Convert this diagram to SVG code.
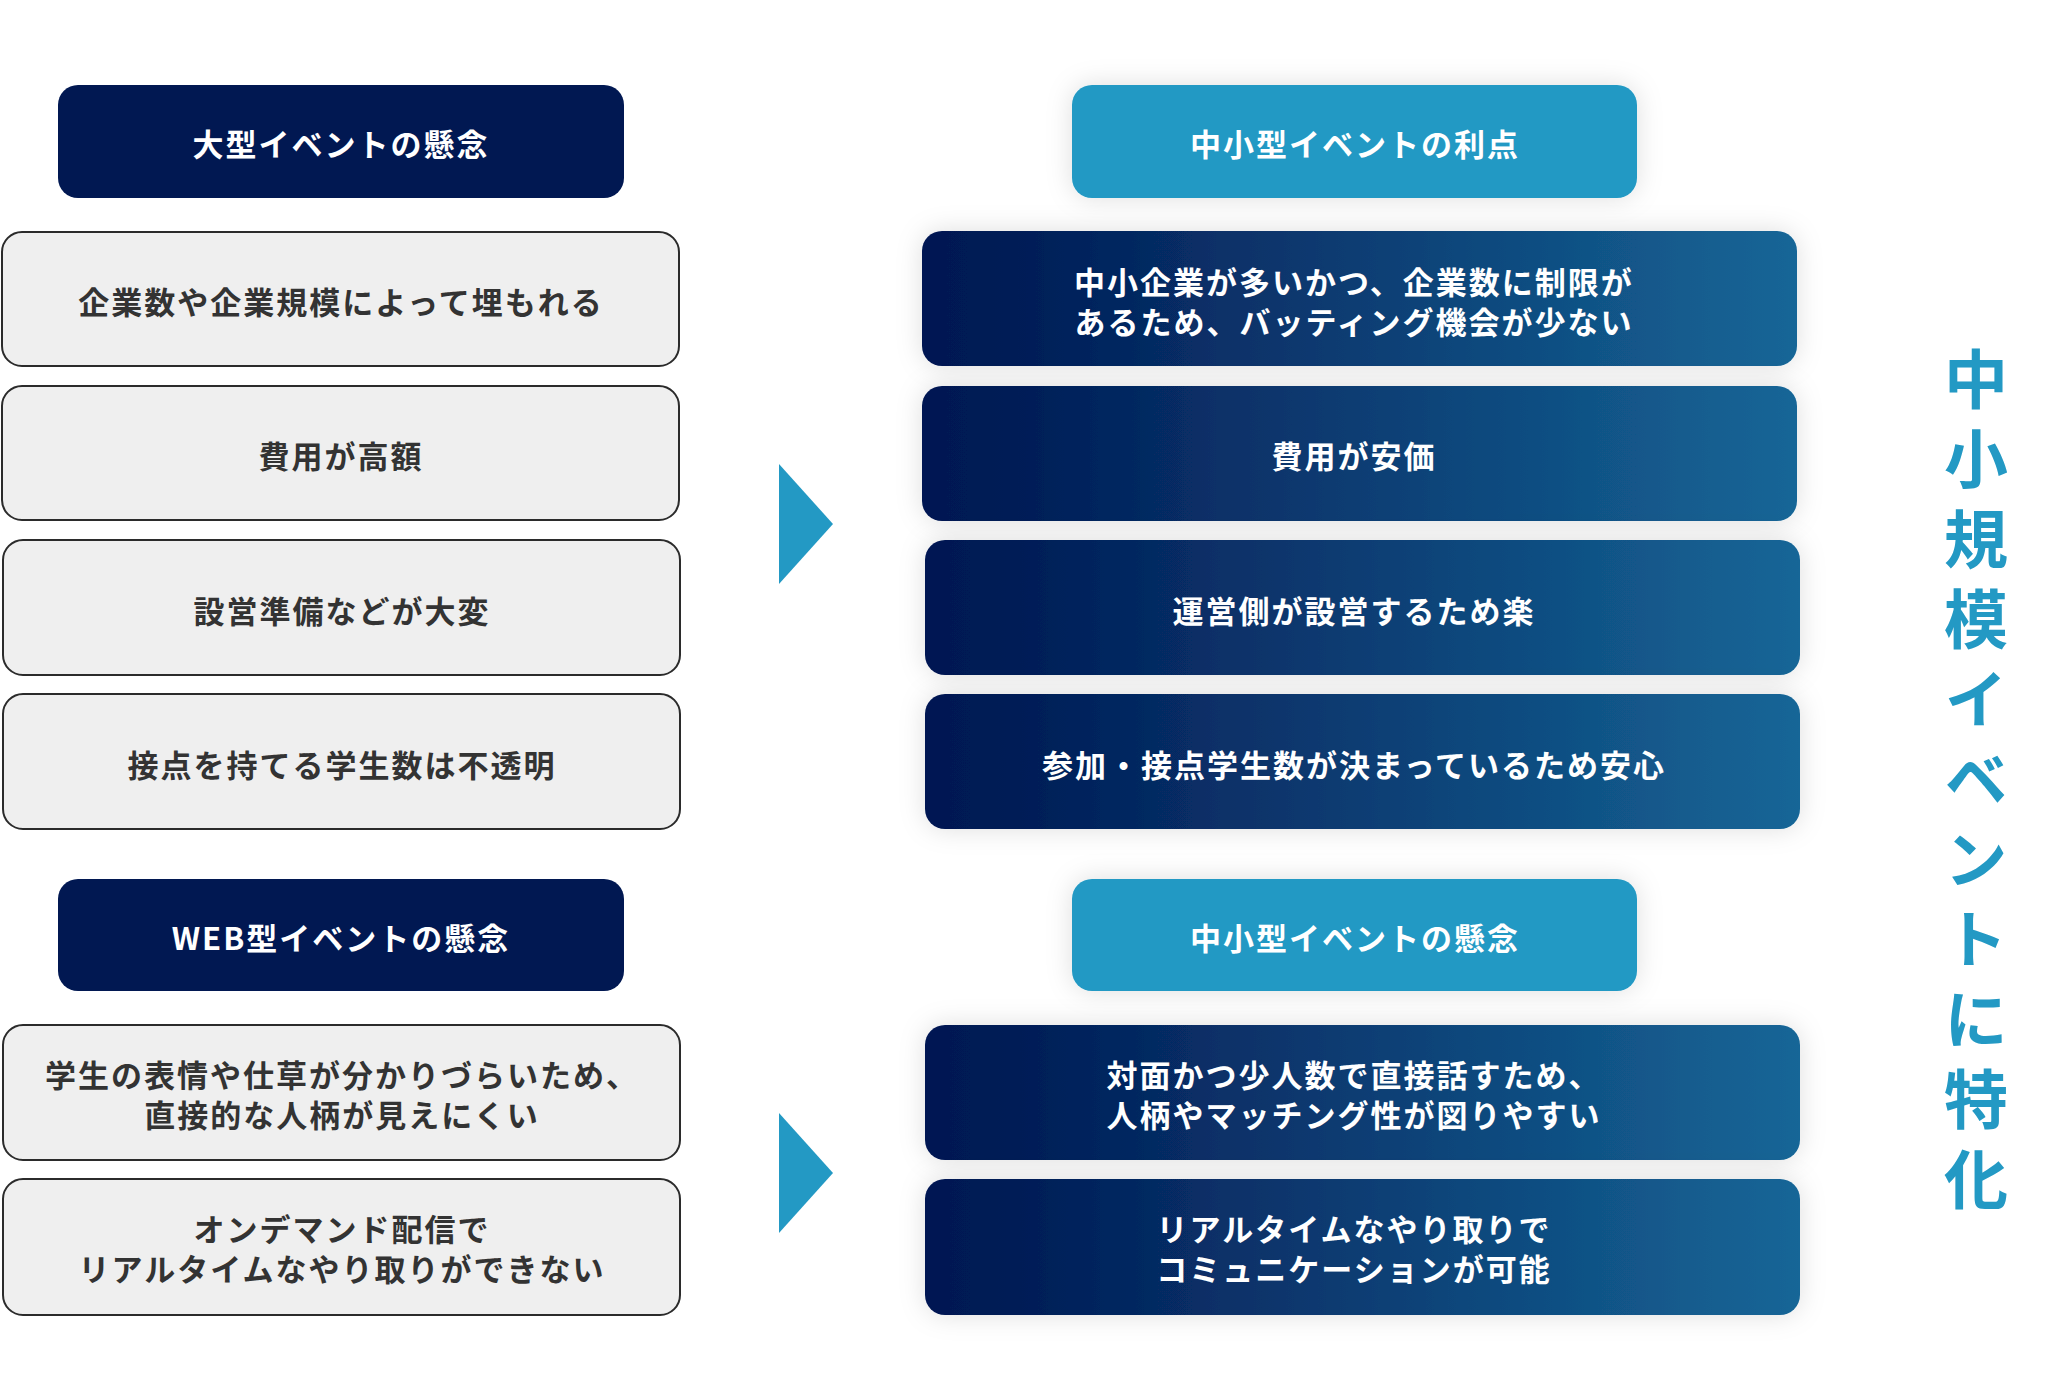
<svg xmlns="http://www.w3.org/2000/svg" width="2072" height="1382" viewBox="0 0 2072 1382">
  <defs>
    <linearGradient id="navyGrad" x1="0" y1="0" x2="1" y2="0">
      <stop offset="0" stop-color="#011852"/>
      <stop offset="0.08" stop-color="#021b55"/>
      <stop offset="1" stop-color="#166697"/>
    </linearGradient>
    <filter id="shadow" x="-10%" y="-40%" width="120%" height="180%">
      <feDropShadow dx="0" dy="0" stdDeviation="13" flood-color="#000" flood-opacity="0.13"/>
    </filter>
    <style>
      text { font-family: "Noto Sans CJK JP", "Noto Sans", sans-serif; font-weight: 700; text-anchor: middle; }
      .hdr-dark { fill: #011852; }
      .hdr-light { fill: #2399c4; filter: url(#shadow); }
      .gray { fill: #efefef; stroke: #2b2b2b; stroke-width: 2; }
      .grad { fill: url(#navyGrad); filter: url(#shadow); }
      .t-white { fill: #ffffff; font-size: 31px; letter-spacing: 2px; }
      .t-dark { fill: #333333; font-size: 31px; letter-spacing: 2px; }
      .arrow { fill: #2399c4; }
      .vtitle { fill: #2399c4; font-size: 64px; writing-mode: vertical-rl; letter-spacing: 16px; text-anchor: start; }
    </style>
  </defs>
  <rect width="2072" height="1382" fill="#ffffff"/>

  <!-- Left column -->
  <g id="hdr-large">
    <rect class="hdr-dark" x="58" y="85" width="566" height="113" rx="20"/>
    <text class="t-white" x="341" y="156">大型イベントの懸念</text>
  </g>
  <g id="large-1">
    <rect class="gray" x="2" y="232" width="677" height="134" rx="20"/>
    <text class="t-dark" x="341" y="314">企業数や企業規模によって埋もれる</text>
  </g>
  <g id="large-2">
    <rect class="gray" x="2" y="386" width="677" height="134" rx="20"/>
    <text class="t-dark" x="341" y="468">費用が高額</text>
  </g>
  <g id="large-3">
    <rect class="gray" x="3" y="540" width="677" height="135" rx="20"/>
    <text class="t-dark" x="342" y="623">設営準備などが大変</text>
  </g>
  <g id="large-4">
    <rect class="gray" x="3" y="694" width="677" height="135" rx="20"/>
    <text class="t-dark" x="342" y="777">接点を持てる学生数は不透明</text>
  </g>

  <g id="hdr-web">
    <rect class="hdr-dark" x="58" y="879" width="566" height="112" rx="20"/>
    <text class="t-white" x="341" y="950">WEB型イベントの懸念</text>
  </g>
  <g id="web-1">
    <rect class="gray" x="3" y="1025" width="677" height="135" rx="20"/>
    <text class="t-dark"><tspan x="342" y="1087">学生の表情や仕草が分かりづらいため、</tspan><tspan x="342" y="1127">直接的な人柄が見えにくい</tspan></text>
  </g>
  <g id="web-2">
    <rect class="gray" x="3" y="1179" width="677" height="136" rx="20"/>
    <text class="t-dark"><tspan x="342" y="1241">オンデマンド配信で</tspan><tspan x="342" y="1281">リアルタイムなやり取りができない</tspan></text>
  </g>

  <!-- Right column -->
  <g id="hdr-merit">
    <rect class="hdr-light" x="1072" y="85" width="565" height="113" rx="20"/>
    <text class="t-white" x="1355" y="156">中小型イベントの利点</text>
  </g>
  <g id="merit-1">
    <rect class="grad" x="922" y="231" width="875" height="135" rx="20"/>
    <text class="t-white"><tspan x="1354" y="294">中小企業が多いかつ、企業数に制限が</tspan><tspan x="1354" y="334">あるため、バッティング機会が少ない</tspan></text>
  </g>
  <g id="merit-2">
    <rect class="grad" x="922" y="386" width="875" height="135" rx="20"/>
    <text class="t-white" x="1354" y="468">費用が安価</text>
  </g>
  <g id="merit-3">
    <rect class="grad" x="925" y="540" width="875" height="135" rx="20"/>
    <text class="t-white" x="1354" y="623">運営側が設営するため楽</text>
  </g>
  <g id="merit-4">
    <rect class="grad" x="925" y="694" width="875" height="135" rx="20"/>
    <text class="t-white" x="1354" y="777">参加・接点学生数が決まっているため安心</text>
  </g>

  <g id="hdr-concern">
    <rect class="hdr-light" x="1072" y="879" width="565" height="112" rx="20"/>
    <text class="t-white" x="1355" y="950">中小型イベントの懸念</text>
  </g>
  <g id="concern-1">
    <rect class="grad" x="925" y="1025" width="875" height="135" rx="20"/>
    <text class="t-white"><tspan x="1354" y="1087">対面かつ少人数で直接話すため、</tspan><tspan x="1354" y="1127">人柄やマッチング性が図りやすい</tspan></text>
  </g>
  <g id="concern-2">
    <rect class="grad" x="925" y="1179" width="875" height="136" rx="20"/>
    <text class="t-white"><tspan x="1354" y="1241">リアルタイムなやり取りで</tspan><tspan x="1354" y="1281">コミュニケーションが可能</tspan></text>
  </g>

  <!-- Connectors -->
  <g id="connectors">
    <polygon class="arrow" points="779,464 833,524 779,584"/>
    <polygon class="arrow" points="779,1113 833,1173 779,1233"/>
  </g>

  <!-- Vertical title -->
  <g id="title">
    <text class="vtitle" x="1976" y="347">中小規模イベントに特化</text>
  </g>
</svg>
